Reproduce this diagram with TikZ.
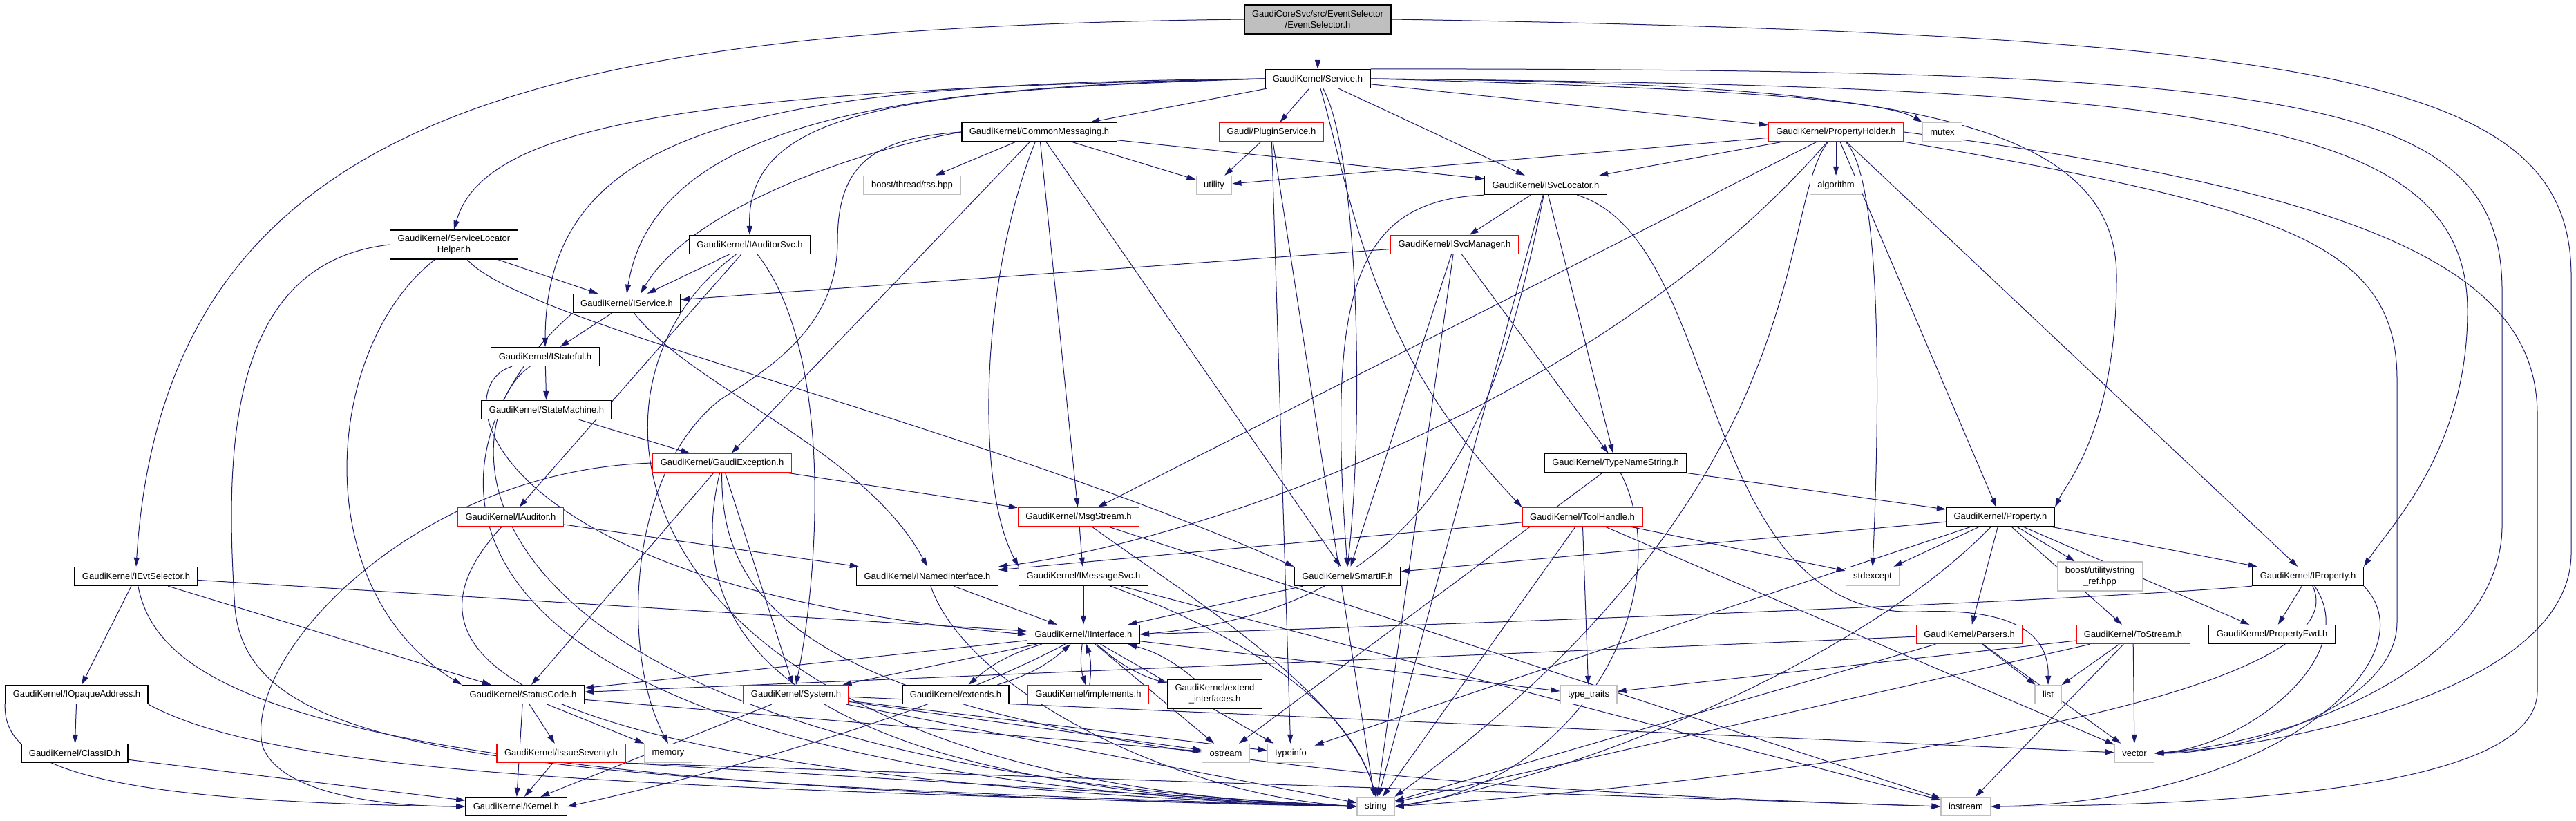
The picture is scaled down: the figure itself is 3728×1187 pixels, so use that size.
\documentclass[tikz,border=0pt]{standalone}
\usepackage{fontspec}
\setmainfont{Liberation Sans}
\usepackage{xcolor}
\usepackage{tikz}
\usetikzlibrary{
	arrows.meta,
	backgrounds
}
\definecolor{navy}{rgb}{0.1, 0.1, 0.44}
\definecolor{lgray}{rgb}{0.75, 0.75, 0.75}
\definecolor{hred}{rgb}{1, 0, 0}
\tikzstyle{every picture}+=[>={Triangle[length=13pt,width=8pt]}]
\tikzstyle{hdr}=[draw=black, fill=white, line width=1.3pt, minimum height=27pt, inner xsep=11pt, inner ysep=3pt, align=center, font=\fontsize{13}{16.5}\selectfont]
\tikzstyle{hdrred}=[hdr, draw=hred]
\tikzstyle{hdrstd}=[hdr, draw=lgray]
\tikzstyle{incl}=[->, draw=navy, line width=1pt]

\begin{document}
\begin{tikzpicture}[x=1pt, y=-1pt]

	\useasboundingbox (0,0) rectangle (3728,1187);

	% Headers
		% Top rows
			\node[hdr, fill=lgray, minimum height=42pt] (root) at (1907,28) {GaudiCoreSvc/src/EventSelector\\/EventSelector.h};
			\node[hdr] (service) at (1907,114) {GaudiKernel/Service.h};
			\node[hdr] (commonMsg) at (1504,191) {GaudiKernel/CommonMessaging.h};
			\node[hdrred] (pluginSvc) at (1840,191) {Gaudi/PluginService.h};
			\node[hdrred] (propHolder) at (2657,191) {GaudiKernel/PropertyHolder.h};
			\node[hdrstd] (mutex) at (2811,191) {mutex};
			\node[hdrstd] (boostTss) at (1320,268) {boost/thread/tss.hpp};
			\node[hdrstd] (utility) at (1757,268) {utility};
			\node[hdr] (iSvcLoc) at (2237,268) {GaudiKernel/ISvcLocator.h};
			\node[hdrstd] (algorithm) at (2657,268) {algorithm};
			\node[hdr, minimum height=42pt] (slHelper) at (657,354) {GaudiKernel/ServiceLocator\\Helper.h};
			\node[hdr] (iAuditorSvc) at (1085,354) {GaudiKernel/IAuditorSvc.h};
			\node[hdrred] (iSvcMgr) at (2105,354) {GaudiKernel/ISvcManager.h};
			\node[hdr] (iService) at (907,439) {GaudiKernel/IService.h};
			\node[hdr] (iStateful) at (789,516) {GaudiKernel/IStateful.h};
			\node[hdr] (stateMachine) at (791,593) {GaudiKernel/StateMachine.h};
		% Middle rows
			\node[hdrred] (gaudiExc) at (1045,670) {GaudiKernel/GaudiException.h};
			\node[hdr] (typeName) at (2338,670) {GaudiKernel/TypeNameString.h};
			\node[hdrred] (iAuditor) at (739,748) {GaudiKernel/IAuditor.h};
			\node[hdrred] (msgStream) at (1561,748) {GaudiKernel/MsgStream.h};
			\node[hdrred] (toolHandle) at (2290,748) {GaudiKernel/ToolHandle.h};
			\node[hdr] (property) at (2895,748) {GaudiKernel/Property.h};
			\node[hdr] (iEvtSel) at (197,834) {GaudiKernel/IEvtSelector.h};
			\node[hdr] (iNamedIf) at (1342,834) {GaudiKernel/INamedInterface.h};
			\node[hdr] (iMsgSvc) at (1568,834) {GaudiKernel/IMessageSvc.h};
			\node[hdr] (smartIF) at (1950,834) {GaudiKernel/SmartIF.h};
			\node[hdrstd] (stdexcept) at (2710,834) {stdexcept};
			\node[hdrstd, minimum height=42pt] (strRef) at (3039,834) {boost/utility/string\\\_ref.hpp};
			\node[hdr] (iProperty) at (3340,834) {GaudiKernel/IProperty.h};
			\node[hdr] (iInterface) at (1568,918) {GaudiKernel/IInterface.h};
			\node[hdrred] (parsers) at (2850,918) {GaudiKernel/Parsers.h};
			\node[hdrred] (toStream) at (3087,918) {GaudiKernel/ToStream.h};
			\node[hdr] (propFwd) at (3288,918) {GaudiKernel/PropertyFwd.h};
		% Bottom rows
			\node[hdr] (iOpaque) at (111,1005) {GaudiKernel/IOpaqueAddress.h};
			\node[hdr] (statusCode) at (757,1005) {GaudiKernel/StatusCode.h};
			\node[hdrred] (system) at (1152,1005) {GaudiKernel/System.h};
			\node[hdr] (extends) at (1383,1005) {GaudiKernel/extends.h};
			\node[hdrred] (implements) at (1575,1005) {GaudiKernel/implements.h};
			\node[hdr, minimum height=42pt] (extendIf) at (1758,1004) {GaudiKernel/extend\\\_interfaces.h};
			\node[hdrstd] (typeTraits) at (2299,1005) {type\_traits};
			\node[hdrstd] (list) at (2964,1005) {list};
			\node[hdr] (classID) at (108,1090) {GaudiKernel/ClassID.h};
			\node[hdrred] (issueSev) at (812,1090) {GaudiKernel/IssueSeverity.h};
			\node[hdrstd] (memory) at (967,1090) {memory};
			\node[hdrstd] (ostream) at (1774,1090) {ostream};
			\node[hdrstd] (typeinfo) at (1868,1090) {typeinfo};
			\node[hdrstd] (vector) at (3089,1090) {vector};
			\node[hdr] (kernel) at (747,1167) {GaudiKernel/Kernel.h};
			\node[hdrstd] (string) at (1991,1167) {string};
			\node[hdrstd] (iostream) at (2845,1167) {iostream};

	% Includes
	\begin{scope}[on background layer]
		% EventSelector.h
			\draw[incl] (root) -- (service);
			\draw[incl] (root.west) .. controls (800,40) and (240,150) .. (iEvtSel.north);
			\draw[incl] (root.east) .. controls (3400,50) and (3721,120) .. (3721,400) -- (3721,800) .. controls (3721,1000) and (3300,1080) .. (vector.east);
		% Service.h
			\draw[incl] (service) -- (commonMsg);
			\draw[incl] (service) -- (pluginSvc);
			\draw[incl] (service) -- (iSvcLoc);
			\draw[incl] (service) -- (propHolder);
			\draw[incl] (service.east) .. controls (2400,125) and (2720,140) .. (mutex.north west);
			\draw[incl] (service.west) .. controls (1000,130) and (700,180) .. (slHelper.north);
			\draw[incl] (service.west) .. controls (1300,130) and (1080,160) .. (iAuditorSvc.north);
			\draw[incl] (service.west) .. controls (1350,125) and (950,160) .. (iService.north);
			\draw[incl] (service.west) .. controls (1100,120) and (790,180) .. (iStateful.north);
			\draw[incl] (service) .. controls (1965,220) and (1975,600) .. (smartIF.north);
			\draw[incl] (service) .. controls (1960,300) and (1980,500) .. (toolHandle.north west);
			\draw[incl] (service.east) .. controls (2700,120) and (3063,160) .. (3063,400) .. controls (3063,620) and (2990,700) .. (property.north east);
			\draw[incl] (service.east) .. controls (3200,125) and (3571,170) .. (3571,450) .. controls (3571,650) and (3460,760) .. (iProperty.north east);
			\draw[incl] (service.north east) .. controls (3300,100) and (3621,130) .. (3621,420) -- (3621,760) .. controls (3621,950) and (3350,1070) .. (vector.east);
		% CommonMessaging.h
			\draw[incl] (commonMsg.west) .. controls (1250,215) and (1000,300) .. ([xshift=20pt]iService.north);
			\draw[incl] (commonMsg.west) .. controls (1260,200) and (1212,240) .. (1212,350) .. controls (1212,480) and (1100,540) .. (1040,580) .. controls (905,690) and (900,950) .. (memory.north);
			\draw[incl] (commonMsg) -- (boostTss);
			\draw[incl] (commonMsg) -- (gaudiExc);
			\draw[incl] (commonMsg) .. controls (1420,400) and (1410,700) .. (iMsgSvc.north west);
			\draw[incl] (commonMsg) -- (msgStream);
			\draw[incl] (commonMsg) -- (smartIF);
			\draw[incl] (commonMsg) -- (utility);
			\draw[incl] (commonMsg) -- (iSvcLoc);
		% PluginService.h
			\draw[incl] (pluginSvc) -- (utility);
			\draw[incl] (pluginSvc) -- (typeinfo);
			\draw[incl] (pluginSvc) -- (string);
		% PropertyHolder.h
			\draw[incl] (propHolder) -- (algorithm);
			\draw[incl] (propHolder) -- (utility);
			\draw[incl] (propHolder) -- (iSvcLoc);
			\draw[incl] (propHolder) -- (msgStream);
			\draw[incl] (propHolder) .. controls (2300,600) and (1700,790) .. (iNamedIf.north east);
			\draw[incl] (propHolder) .. controls (2725,260) and (2720,600) .. (stdexcept.north);
			\draw[incl] (propHolder) .. controls (2570,300) and (2640,700) .. (string.north east);
			\draw[incl] (propHolder) -- (property);
			\draw[incl] (propHolder) -- (iProperty);
			\draw[incl] (propHolder.south east) .. controls (3300,300) and (3469,350) .. (3469,550) -- (3469,900) .. controls (3469,1020) and (3250,1090) .. (vector.east);
			\draw[incl] (propHolder.east) .. controls (3450,280) and (3672,400) .. (3672,600) -- (3672,1000) .. controls (3672,1130) and (3300,1165) .. (iostream.east);
		% ISvcLocator.h
			\draw[incl] (iSvcLoc) .. controls (2170,600) and (2080,880) .. (iInterface.east);
			\draw[incl] (iSvcLoc) -- (iSvcMgr);
			\draw[incl] (iSvcLoc.south west) .. controls (1960,290) and (1920,420) .. (smartIF.north);
			\draw[incl] (iSvcLoc) -- (typeName);
			\draw[incl] (iSvcLoc) -- (string);
			\draw[incl] (iSvcLoc) .. controls (2500,350) and (2450,900) .. (2780,885) .. controls (2920,880) and (2965,920) .. (list.north);
		% ISvcManager.h
			\draw[incl] (iSvcMgr) -- (iService);
			\draw[incl] (iSvcMgr) -- (smartIF);
			\draw[incl] (iSvcMgr) -- (typeName);
			\draw[incl] (iSvcMgr) -- (string);
		% ServiceLocatorHelper.h
			\draw[incl] (slHelper) -- (iService);
			\draw[incl] (slHelper) .. controls (760,470) and (1400,610) .. (smartIF.north west);
			\draw[incl] (slHelper) .. controls (470,500) and (440,850) .. (statusCode.north west);
			\draw[incl] (slHelper.west) .. controls (330,380) and (325,650) .. (340,880) .. controls (360,1090) and (700,1130) .. (string.west);
		% IAuditorSvc.h
			\draw[incl] (iAuditorSvc) -- (iService);
			\draw[incl] (iAuditorSvc) -- (iAuditor);
			\draw[incl] (iAuditorSvc) .. controls (1200,500) and (1190,800) .. (system.north);
			\draw[incl] (iAuditorSvc) .. controls (800,560) and (880,1130) .. (string.west);
		% IService.h
			\draw[incl] (iService) -- (iStateful);
			\draw[incl] (iService) .. controls (1000,560) and (1250,650) .. (iNamedIf.north);
			\draw[incl] (iService.south west) .. controls (600,650) and (520,1120) .. (string.west);
		% IStateful.h
			\draw[incl] (iStateful) -- (stateMachine);
			\draw[incl] (iStateful) .. controls (640,560) and (700,850) .. (iInterface.west);
			\draw[incl] (iStateful) .. controls (660,600) and (580,1100) .. (string.west);
		% StateMachine.h
			\draw[incl] (stateMachine) -- (gaudiExc);
		% GaudiException.h
			\draw[incl] (gaudiExc) -- (msgStream);
			\draw[incl] (gaudiExc) -- (statusCode);
			\draw[incl] (gaudiExc) -- (system);
			\draw[incl] (gaudiExc.west) .. controls (600,680) and (350,950) .. (380,1080) .. controls (410,1160) and (600,1167) .. (kernel.west);
			\draw[incl] (gaudiExc) .. controls (990,900) and (1100,1140) .. (string.west);
			\draw[incl] (gaudiExc) .. controls (1040,950) and (1300,1120) .. (iostream.west);
		% IAuditor.h
			\draw[incl] (iAuditor) -- (iNamedIf);
			\draw[incl] (iAuditor) .. controls (600,900) and (560,1120) .. (string.west);
		% MsgStream.h
			\draw[incl] (msgStream) -- (iMsgSvc);
			\draw[incl] (msgStream) .. controls (1700,850) and (1950,1000) .. (string.north);
			\draw[incl] (msgStream) -- (iostream);
		% ToolHandle.h
			\draw[incl] (toolHandle) -- (iNamedIf);
			\draw[incl] (toolHandle) -- (typeTraits);
			\draw[incl] (toolHandle) -- (string);
			\draw[incl] (toolHandle) -- (stdexcept);
			\draw[incl] (toolHandle) -- (vector);
		% TypeNameString.h
			\draw[incl] (typeName) -- (property);
			\draw[incl] (typeName) -- (ostream);
			\draw[incl] (typeName) .. controls (2430,850) and (2300,1130) .. (string.east);
		% INamedInterface.h, IMessageSvc.h, SmartIF.h
			\draw[incl] (iNamedIf) -- (iInterface);
			\draw[incl] (iNamedIf) .. controls (1400,1000) and (1700,1150) .. (string.west);
			\draw[incl] (iMsgSvc) -- (iInterface);
			\draw[incl] (iMsgSvc) .. controls (1750,900) and (1950,1000) .. (string.north);
			\draw[incl] (iMsgSvc) -- (iostream);
			\draw[incl] (smartIF) -- (iInterface);
		% IInterface.h
			\draw[incl] (iInterface) -- (statusCode);
			\draw[incl] (iInterface) -- (system);
			\draw[incl] (iInterface) .. controls (1300,1060) and (900,1150) .. (kernel.east);
			\draw[incl] (iInterface) -- (ostream);
			\draw[incl] (iInterface) -- (typeinfo);
			\draw[incl] (iInterface) -- (typeTraits);
			\draw[incl] (iInterface) to[bend right=12] (extends);
			\draw[incl] (extends) to[bend right=12] (iInterface);
			\draw[incl] (iInterface) to[bend right=12] (implements);
			\draw[incl] (implements) to[bend right=12] (iInterface);
			\draw[incl] (iInterface) to[bend right=12] (extendIf);
			\draw[incl] (extendIf) to[bend right=12] (iInterface);
		% StatusCode.h
			\draw[incl] (statusCode) -- (kernel);
			\draw[incl] (statusCode) -- (issueSev);
			\draw[incl] (statusCode) -- (memory);
			\draw[incl] (statusCode) -- (ostream);
		% IssueSeverity.h
			\draw[incl] (issueSev) -- (kernel);
			\draw[incl] (issueSev.south east) -- (string.west);
			\draw[incl] (issueSev.south east) -- (iostream.west);
		% System.h
			\draw[incl] (system) -- (kernel);
			\draw[incl] (system) -- (string);
			\draw[incl] (system) -- (typeinfo);
			\draw[incl] (system) -- (vector);
			\draw[incl] (system) -- (ostream);
		% IEvtSelector.h
			\draw[incl] (iEvtSel) -- (iInterface);
			\draw[incl] (iEvtSel) -- (statusCode);
			\draw[incl] (iEvtSel) -- (iOpaque);
			\draw[incl] (iEvtSel) .. controls (230,1000) and (450,1140) .. (string.west);
		% IOpaqueAddress.h, ClassID.h
			\draw[incl] (iOpaque) -- (classID);
			\draw[incl] (iOpaque.south west) .. controls (5,1100) and (100,1160) .. (kernel.west);
			\draw[incl] (iOpaque.south east) .. controls (400,1120) and (900,1140) .. (string.west);
			\draw[incl] (classID) -- (kernel);
		% Property.h
			\draw[incl] (property) -- (smartIF);
			\draw[incl] (property) -- (stdexcept);
			\draw[incl] (property) -- (strRef);
			\draw[incl] (property) -- (iProperty);
			\draw[incl] (property) -- (propFwd);
			\draw[incl] (property) -- (toStream);
			\draw[incl] (property) -- (parsers);
			\draw[incl] (property) -- (typeinfo);
			\draw[incl] (property) .. controls (2700,950) and (2300,1120) .. (string.east);
		% IProperty.h
			\draw[incl] (iProperty.south west) .. controls (3000,870) and (2200,900) .. (iInterface.east);
			\draw[incl] (iProperty) -- (propFwd);
			\draw[incl] (iProperty) .. controls (3420,950) and (3250,1080) .. (vector.east);
			\draw[incl] (iProperty) .. controls (3420,1000) and (2700,1120) .. (string.east);
			\draw[incl] (iProperty.south east) .. controls (3520,950) and (3300,1160) .. (iostream.east);
		% Parsers.h
			\draw[incl] (parsers) -- (statusCode);
			\draw[incl] (parsers) -- (list);
			\draw[incl] (parsers) -- (vector);
			\draw[incl] (parsers) -- (string);
		% ToStream.h
			\draw[incl] (toStream) -- (typeTraits);
			\draw[incl] (toStream) -- (list);
			\draw[incl] (toStream) -- (vector);
			\draw[incl] (toStream) -- (string);
			\draw[incl] (toStream) -- (iostream);
	\end{scope}
\end{tikzpicture}
\end{document}
